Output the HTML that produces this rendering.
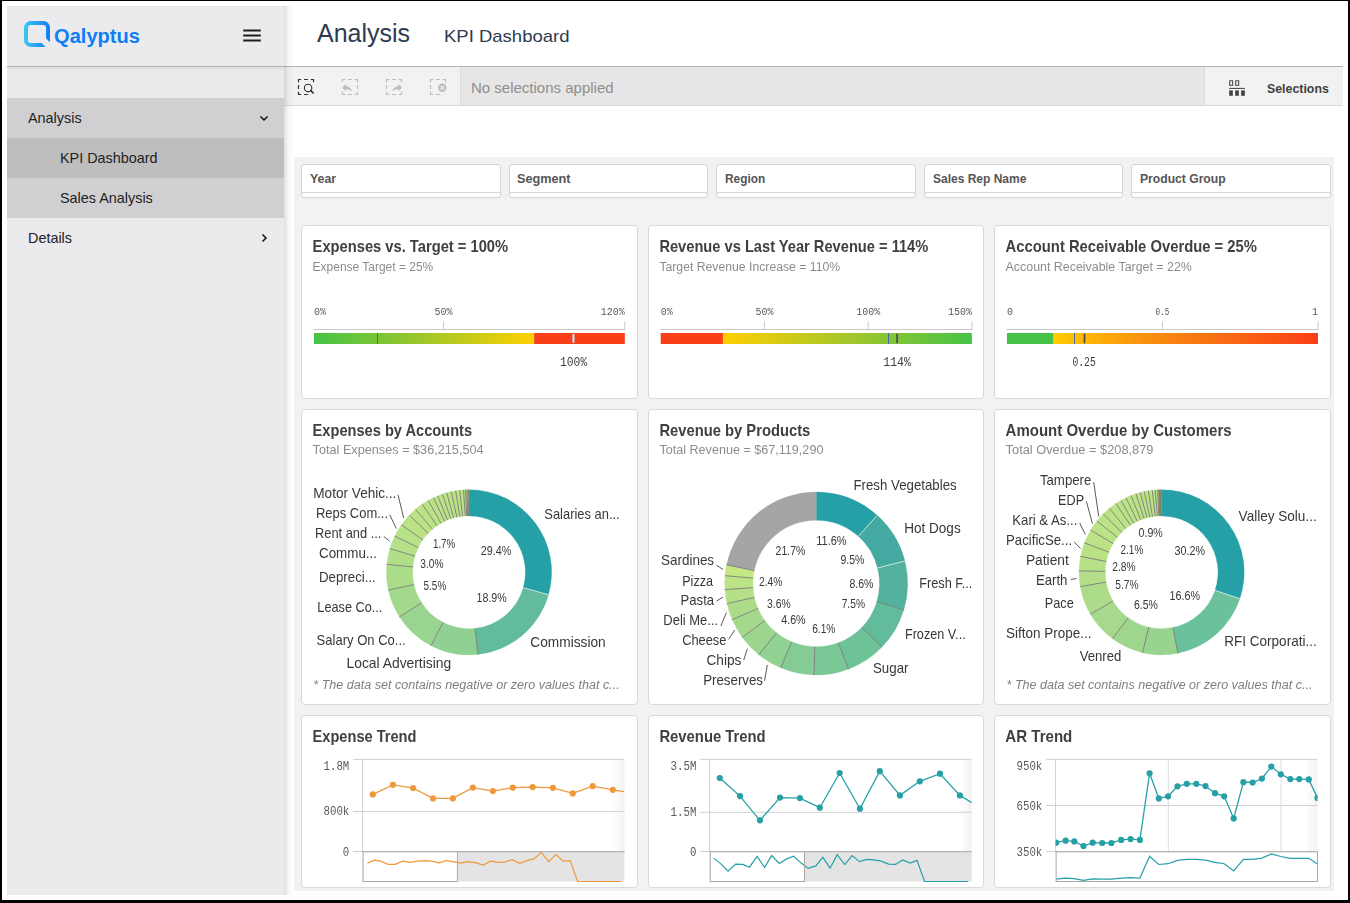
<!DOCTYPE html>
<html><head><meta charset="utf-8"><title>KPI Dashboard</title>
<style>
html,body{margin:0;padding:0}
body{width:1350px;height:903px;background:#000;position:relative;overflow:hidden;font-family:"Liberation Sans", sans-serif}
</style></head>
<body>
<div style="position:absolute;left:2px;top:1px;width:1346px;height:899px;background:#fff"></div>
<div style="position:absolute;left:7px;top:6px;width:277px;height:889px;background:#ebebed"></div>
<div style="position:absolute;left:7px;top:66px;width:277px;height:1px;background:#b6b6b8;box-shadow:0 1px 3px rgba(0,0,0,0.2)"></div>
<div style="position:absolute;left:7px;top:98px;width:277px;height:40px;background:#d0d0d2"></div>
<div style="position:absolute;left:7px;top:138px;width:277px;height:40px;background:#bebebe"></div>
<div style="position:absolute;left:7px;top:178px;width:277px;height:40px;background:#d0d0d2"></div>
<div style="position:absolute;left:284px;top:66px;width:1059px;height:1px;background:#b4b4b4;box-shadow:0 1px 2px rgba(0,0,0,0.14)"></div>
<div style="position:absolute;left:284px;top:67px;width:176px;height:38px;background:#f2f2f2"></div>
<div style="position:absolute;left:460px;top:67px;width:1px;height:38px;background:#dcdcdc"></div>
<div style="position:absolute;left:461px;top:67px;width:743px;height:38px;background:#e6e6e6"></div>
<div style="position:absolute;left:1204px;top:67px;width:1px;height:38px;background:#dcdcdc"></div>
<div style="position:absolute;left:1205px;top:67px;width:138px;height:38px;background:#f2f2f2"></div>
<div style="position:absolute;left:284px;top:105px;width:1059px;height:1px;background:#d9d9d9"></div>
<div style="position:absolute;left:284px;top:6px;width:10px;height:889px;background:linear-gradient(to right,rgba(0,0,0,0.13),rgba(0,0,0,0.04) 40%,rgba(0,0,0,0))"></div>
<div style="position:absolute;left:294px;top:157px;width:1040px;height:734px;background:#f2f2f2"></div>
<div style="position:absolute;left:301px;top:164px;width:198px;height:32px;background:#fff;border:1px solid #d5d5d5;border-radius:3px"></div>
<div style="position:absolute;left:302px;top:192px;width:198px;height:1px;background:#d5d5d5"></div>
<div style="position:absolute;left:509px;top:164px;width:197px;height:32px;background:#fff;border:1px solid #d5d5d5;border-radius:3px"></div>
<div style="position:absolute;left:510px;top:192px;width:197px;height:1px;background:#d5d5d5"></div>
<div style="position:absolute;left:716px;top:164px;width:198px;height:32px;background:#fff;border:1px solid #d5d5d5;border-radius:3px"></div>
<div style="position:absolute;left:717px;top:192px;width:198px;height:1px;background:#d5d5d5"></div>
<div style="position:absolute;left:924px;top:164px;width:197px;height:32px;background:#fff;border:1px solid #d5d5d5;border-radius:3px"></div>
<div style="position:absolute;left:925px;top:192px;width:197px;height:1px;background:#d5d5d5"></div>
<div style="position:absolute;left:1131px;top:164px;width:198px;height:32px;background:#fff;border:1px solid #d5d5d5;border-radius:3px"></div>
<div style="position:absolute;left:1132px;top:192px;width:198px;height:1px;background:#d5d5d5"></div>
<div style="position:absolute;left:301px;top:225px;width:335px;height:172px;background:#fff;border:1px solid #d9d9d9;border-radius:4px"></div>
<div style="position:absolute;left:648px;top:225px;width:334px;height:172px;background:#fff;border:1px solid #d9d9d9;border-radius:4px"></div>
<div style="position:absolute;left:994px;top:225px;width:335px;height:172px;background:#fff;border:1px solid #d9d9d9;border-radius:4px"></div>
<div style="position:absolute;left:301px;top:409px;width:335px;height:294px;background:#fff;border:1px solid #d9d9d9;border-radius:4px"></div>
<div style="position:absolute;left:648px;top:409px;width:334px;height:294px;background:#fff;border:1px solid #d9d9d9;border-radius:4px"></div>
<div style="position:absolute;left:994px;top:409px;width:335px;height:294px;background:#fff;border:1px solid #d9d9d9;border-radius:4px"></div>
<div style="position:absolute;left:301px;top:715px;width:335px;height:171px;background:#fff;border:1px solid #d9d9d9;border-radius:4px"></div>
<div style="position:absolute;left:648px;top:715px;width:334px;height:171px;background:#fff;border:1px solid #d9d9d9;border-radius:4px"></div>
<div style="position:absolute;left:994px;top:715px;width:335px;height:171px;background:#fff;border:1px solid #d9d9d9;border-radius:4px"></div>
<div style="position:absolute;left:54.3px;top:35.90px;margin:0;line-height:0;white-space:nowrap;font-size:19.5px;color:#0e7ef5;font-weight:bold;transform-origin:0 0;transform:scaleX(1.0307)">Qalyptus</div>
<div style="position:absolute;left:28px;top:117.90px;margin:0;line-height:0;white-space:nowrap;font-size:14.4px;color:#222;font-weight:normal">Analysis</div>
<div style="position:absolute;left:60px;top:157.90px;margin:0;line-height:0;white-space:nowrap;font-size:14.4px;color:#222;font-weight:normal">KPI Dashboard</div>
<div style="position:absolute;left:60px;top:197.90px;margin:0;line-height:0;white-space:nowrap;font-size:14.4px;color:#222;font-weight:normal">Sales Analysis</div>
<div style="position:absolute;left:28px;top:237.90px;margin:0;line-height:0;white-space:nowrap;font-size:14.4px;color:#222;font-weight:normal">Details</div>
<h1 style="position:absolute;left:317px;top:33.00px;margin:0;line-height:0;white-space:nowrap;font-size:25px;color:#2e3a50;font-weight:normal">Analysis</h1>
<h2 style="position:absolute;left:444px;top:36.50px;margin:0;line-height:0;white-space:nowrap;font-size:17px;color:#2e3a50;font-weight:normal;transform-origin:0 0;transform:scaleX(1.0885)">KPI Dashboard</h2>
<div style="position:absolute;left:471px;top:87.50px;margin:0;line-height:0;white-space:nowrap;font-size:15px;color:#8e8e8e;font-weight:normal">No selections applied</div>
<div style="position:absolute;left:1267px;top:89.00px;margin:0;line-height:0;white-space:nowrap;font-size:12.3px;color:#404040;font-weight:bold;transform-origin:0 0;transform:scaleX(1.0046)">Selections</div>
<div style="position:absolute;left:309.6px;top:178.90px;margin:0;line-height:0;white-space:nowrap;font-size:12px;color:#555;font-weight:bold;transform-origin:0 0;transform:scaleX(1.0331)">Year</div>
<div style="position:absolute;left:517.2px;top:178.90px;margin:0;line-height:0;white-space:nowrap;font-size:12px;color:#555;font-weight:bold;transform-origin:0 0;transform:scaleX(1.0575)">Segment</div>
<div style="position:absolute;left:725.4px;top:178.90px;margin:0;line-height:0;white-space:nowrap;font-size:12px;color:#555;font-weight:bold;transform-origin:0 0;transform:scaleX(0.9884)">Region</div>
<div style="position:absolute;left:932.7px;top:178.90px;margin:0;line-height:0;white-space:nowrap;font-size:12px;color:#555;font-weight:bold;transform-origin:0 0;transform:scaleX(1.0001)">Sales Rep Name</div>
<div style="position:absolute;left:1140px;top:178.90px;margin:0;line-height:0;white-space:nowrap;font-size:12px;color:#555;font-weight:bold;transform-origin:0 0;transform:scaleX(1.0110)">Product Group</div>
<svg style="position:absolute;left:0;top:0;will-change:transform" font-family='"Liberation Sans", sans-serif' width="1350" height="903" viewBox="0 0 1350 903">
<defs>
<linearGradient id="lg" x1="0" y1="0" x2="1" y2="0"><stop offset="0" stop-color="#3cc3ee"/><stop offset="1" stop-color="#1482f5"/></linearGradient>
<linearGradient id="g1" x1="0" y1="0" x2="1" y2="0"><stop offset="0" stop-color="#46c346"/><stop offset="0.45" stop-color="#95c62c"/><stop offset="1" stop-color="#fdd000"/></linearGradient>
<linearGradient id="g2" x1="0" y1="0" x2="1" y2="0"><stop offset="0" stop-color="#ffcf02"/><stop offset="0.5" stop-color="#a4c72a"/><stop offset="1" stop-color="#46c346"/></linearGradient>
<linearGradient id="g3" x1="0" y1="0" x2="1" y2="0"><stop offset="0" stop-color="#ffcc02"/><stop offset="0.35" stop-color="#f9900f"/><stop offset="1" stop-color="#f93f17"/></linearGradient>
<linearGradient id="shade" x1="0" y1="0" x2="1" y2="0"><stop offset="0" stop-color="#fff"/><stop offset="1" stop-color="#f2f2f2"/></linearGradient>
</defs>
<mask id="qm" maskUnits="userSpaceOnUse" x="0" y="0" width="80" height="80"><rect x="0" y="0" width="80" height="80" fill="#fff"/><path d="M 42.7 35 L 57.7 50 L 48.7 50 L 33.7 35 Z" fill="#000"/></mask>
<rect x="26" y="23" width="22" height="21.9" rx="4.6" fill="none" stroke="url(#lg)" stroke-width="4" mask="url(#qm)"/>
<line x1="243.2" y1="30.5" x2="260.8" y2="30.5" stroke="#1e1e1e" stroke-width="2"/>
<line x1="243.2" y1="35.5" x2="260.8" y2="35.5" stroke="#1e1e1e" stroke-width="2"/>
<line x1="243.2" y1="40.5" x2="260.8" y2="40.5" stroke="#1e1e1e" stroke-width="2"/>
<path d="M 260.5 116.5 L 264 120 L 267.5 116.5" fill="none" stroke="#111" stroke-width="1.5"/>
<path d="M 262.5 234.5 L 266 238 L 262.5 241.5" fill="none" stroke="#111" stroke-width="1.5"/>
<path d="M 298.5 82.2 L 298.5 79.5 L 301.2 79.5 M 310.8 79.5 L 313.5 79.5 L 313.5 82.2 M 301.2 94.5 L 298.5 94.5 L 298.5 91.8 M 304.0 79.5 L 308.0 79.5 M 304.0 94.5 L 308.0 94.5 M 298.5 85.0 L 298.5 89.0" fill="none" stroke="#333" stroke-width="1.2"/>
<circle cx="308.1" cy="87.9" r="3.7" fill="none" stroke="#333" stroke-width="1.1"/>
<line x1="310.8" y1="90.6" x2="313.2" y2="93" stroke="#333" stroke-width="1.7" stroke-linecap="round"/>
<path d="M 342.5 82.2 L 342.5 79.5 L 345.2 79.5 M 354.8 79.5 L 357.5 79.5 L 357.5 82.2 M 357.5 91.8 L 357.5 94.5 L 354.8 94.5 M 345.2 94.5 L 342.5 94.5 L 342.5 91.8 M 348.0 79.5 L 352.0 79.5 M 348.0 94.5 L 352.0 94.5 M 357.5 85.0 L 357.5 89.0" fill="none" stroke="#bdbdbd" stroke-width="1.2"/>
<path d="M 342.2 87.5 L 345.8 84 L 345.8 86.2 Q 350.5 86.2 352 91.2 Q 349.5 88.8 345.8 89.2 L 345.8 91.2 Z" fill="#bdbdbd"/>
<path d="M 386.5 82.2 L 386.5 79.5 L 389.2 79.5 M 398.8 79.5 L 401.5 79.5 L 401.5 82.2 M 401.5 91.8 L 401.5 94.5 L 398.8 94.5 M 389.2 94.5 L 386.5 94.5 L 386.5 91.8 M 392.0 79.5 L 396.0 79.5 M 392.0 94.5 L 396.0 94.5 M 386.5 85.0 L 386.5 89.0" fill="none" stroke="#bdbdbd" stroke-width="1.2"/>
<path d="M 402 87.5 L 398.4 84 L 398.4 86.2 Q 393.7 86.2 392.2 91.2 Q 394.7 88.8 398.4 89.2 L 398.4 91.2 Z" fill="#bdbdbd"/>
<path d="M 430.5 82.2 L 430.5 79.5 L 433.2 79.5 M 442.8 79.5 L 445.5 79.5 L 445.5 82.2 M 433.2 94.5 L 430.5 94.5 L 430.5 91.8 M 436.0 79.5 L 440.0 79.5 M 436.0 94.5 L 440.0 94.5 M 430.5 85.0 L 430.5 89.0" fill="none" stroke="#bdbdbd" stroke-width="1.2"/>
<circle cx="442.2" cy="87.8" r="4.2" fill="#bdbdbd"/>
<path d="M 440.4 86 L 444 89.6 M 444 86 L 440.4 89.6" stroke="#f2f2f2" stroke-width="1.2"/>
<rect x="1229.7" y="80.8" width="3" height="4.5" fill="none" stroke="#404040" stroke-width="1"/>
<rect x="1235.7" y="80.8" width="3" height="4.5" fill="none" stroke="#404040" stroke-width="1"/>
<rect x="1229.2" y="87.9" width="15.7" height="1" fill="#404040"/>
<rect x="1229.2" y="90.4" width="3.6" height="5.4" fill="#404040"/>
<rect x="1235.2" y="90.4" width="3.6" height="5.4" fill="#404040"/>
<rect x="1241.2" y="90.4" width="3.6" height="5.4" fill="#404040"/>
<text x="312.60" y="251.90" font-size="16.3px" fill="#404040" font-weight="bold" textLength="195.50" lengthAdjust="spacingAndGlyphs">Expenses vs. Target = 100%</text>
<text x="312.60" y="271.00" font-size="12px" fill="#8c8c8c" textLength="120.60" lengthAdjust="spacingAndGlyphs">Expense Target = 25%</text>
<line x1="313.5" y1="329.5" x2="625.3" y2="329.5" stroke="#c8c8c8" stroke-width="1"/>
<text x="314.00" y="314.60" font-size="10px" fill="#595959" style='font-family:"Liberation Mono", monospace'>0%</text>
<line x1="443.5" y1="321.5" x2="443.5" y2="329.5" stroke="#c8c8c8" stroke-width="1"/>
<text x="443.50" y="314.60" font-size="10px" fill="#595959" style='font-family:"Liberation Mono", monospace' text-anchor="middle">50%</text>
<line x1="624.8" y1="321.5" x2="624.8" y2="329.5" stroke="#c8c8c8" stroke-width="1"/>
<text x="624.80" y="314.60" font-size="10px" fill="#595959" style='font-family:"Liberation Mono", monospace' text-anchor="end">120%</text>
<rect x="314.0" y="333" width="220.14999999999998" height="11" fill="url(#g1)"/>
<rect x="534.15" y="333" width="90.64999999999998" height="11" fill="#f93f17"/>
<rect x="377.0" y="333" width="1" height="11" fill="#3f6aa5"/>
<rect x="572.30" y="333.8" width="2.3" height="9.3" rx="1" fill="#e3e6ea" stroke="rgba(120,60,50,0.35)" stroke-width="0.4"/>
<text x="573.60" y="366.00" font-size="12px" fill="#404040" style='font-family:"Liberation Mono", monospace' text-anchor="middle" textLength="27.20" lengthAdjust="spacingAndGlyphs">100%</text>
<text x="659.40" y="251.90" font-size="16.3px" fill="#404040" font-weight="bold" textLength="268.90" lengthAdjust="spacingAndGlyphs">Revenue vs Last Year Revenue = 114%</text>
<text x="659.40" y="271.00" font-size="12px" fill="#8c8c8c" textLength="180.80" lengthAdjust="spacingAndGlyphs">Target Revenue Increase = 110%</text>
<line x1="660.2" y1="329.5" x2="972.4" y2="329.5" stroke="#c8c8c8" stroke-width="1"/>
<text x="660.70" y="314.60" font-size="10px" fill="#595959" style='font-family:"Liberation Mono", monospace'>0%</text>
<line x1="764.4333333333334" y1="321.5" x2="764.4333333333334" y2="329.5" stroke="#c8c8c8" stroke-width="1"/>
<text x="764.43" y="314.60" font-size="10px" fill="#595959" style='font-family:"Liberation Mono", monospace' text-anchor="middle">50%</text>
<line x1="868.1666666666666" y1="321.5" x2="868.1666666666666" y2="329.5" stroke="#c8c8c8" stroke-width="1"/>
<text x="868.17" y="314.60" font-size="10px" fill="#595959" style='font-family:"Liberation Mono", monospace' text-anchor="middle">100%</text>
<line x1="971.9" y1="321.5" x2="971.9" y2="329.5" stroke="#c8c8c8" stroke-width="1"/>
<text x="971.90" y="314.60" font-size="10px" fill="#595959" style='font-family:"Liberation Mono", monospace' text-anchor="end">150%</text>
<rect x="660.7" y="333" width="62.23999999999999" height="11" fill="#f93f17"/>
<rect x="722.94" y="333" width="248.95999999999995" height="11" fill="url(#g2)"/>
<rect x="888.0" y="333" width="1" height="11" fill="#3f6aa5"/>
<rect x="896.20" y="333.6" width="1.8" height="9.8" rx="0.8" fill="#4f4d5e"/>
<text x="897.10" y="366.00" font-size="12px" fill="#404040" style='font-family:"Liberation Mono", monospace' text-anchor="middle" textLength="27.70" lengthAdjust="spacingAndGlyphs">114%</text>
<text x="1005.60" y="251.90" font-size="16.3px" fill="#404040" font-weight="bold" textLength="251.40" lengthAdjust="spacingAndGlyphs">Account Receivable Overdue = 25%</text>
<text x="1005.60" y="271.00" font-size="12px" fill="#8c8c8c" textLength="186.30" lengthAdjust="spacingAndGlyphs">Account Receivable Target = 22%</text>
<line x1="1006.4" y1="329.5" x2="1318.5" y2="329.5" stroke="#c8c8c8" stroke-width="1"/>
<text x="1006.90" y="314.60" font-size="10px" fill="#595959" style='font-family:"Liberation Mono", monospace'>0</text>
<line x1="1162.45" y1="321.5" x2="1162.45" y2="329.5" stroke="#c8c8c8" stroke-width="1"/>
<text x="1162.45" y="314.60" font-size="10px" fill="#595959" style='font-family:"Liberation Mono", monospace' text-anchor="middle" textLength="13.70" lengthAdjust="spacingAndGlyphs">0.5</text>
<line x1="1318.0" y1="321.5" x2="1318.0" y2="329.5" stroke="#c8c8c8" stroke-width="1"/>
<text x="1318.00" y="314.60" font-size="10px" fill="#595959" style='font-family:"Liberation Mono", monospace' text-anchor="end">1</text>
<rect x="1006.9" y="333" width="46.665" height="11" fill="#46c346"/>
<rect x="1053.565" y="333" width="264.435" height="11" fill="url(#g3)"/>
<rect x="1074.0" y="333" width="1" height="11" fill="#3f6aa5"/>
<rect x="1083.60" y="333.6" width="1.8" height="9.8" rx="0.8" fill="#4f4d5e"/>
<text x="1084.10" y="366.00" font-size="12px" fill="#404040" style='font-family:"Liberation Mono", monospace' text-anchor="middle" textLength="23.40" lengthAdjust="spacingAndGlyphs">0.25</text>
<text x="312.60" y="435.80" font-size="16.3px" fill="#404040" font-weight="bold" textLength="159.50" lengthAdjust="spacingAndGlyphs">Expenses by Accounts</text>
<text x="312.60" y="454.00" font-size="12px" fill="#8c8c8c" textLength="171.00" lengthAdjust="spacingAndGlyphs">Total Expenses = $36,215,504</text>
<path d="M 469.00 489.70 A 82.6 82.6 0 0 1 548.48 594.79 L 523.27 587.66 A 56.4 56.4 0 0 0 469.00 515.90 Z" fill="#26a0a7" stroke="#26a0a7" stroke-width="0.3"/>
<path d="M 548.48 594.79 A 82.6 82.6 0 0 1 477.78 654.43 L 474.99 628.38 A 56.4 56.4 0 0 0 523.27 587.66 Z" fill="#62bb9d" stroke="#62bb9d" stroke-width="0.3"/>
<path d="M 477.78 654.43 A 82.6 82.6 0 0 1 430.99 645.63 L 443.04 622.37 A 56.4 56.4 0 0 0 474.99 628.38 Z" fill="#90d092" stroke="#90d092" stroke-width="0.3"/>
<path d="M 430.99 645.63 A 82.6 82.6 0 0 1 399.49 616.92 L 421.54 602.77 A 56.4 56.4 0 0 0 443.04 622.37 Z" fill="#99d490" stroke="#99d490" stroke-width="0.3"/>
<path d="M 399.49 616.92 A 82.6 82.6 0 0 1 388.36 590.18 L 413.94 584.51 A 56.4 56.4 0 0 0 421.54 602.77 Z" fill="#a3d98c" stroke="#a3d98c" stroke-width="0.3"/>
<path d="M 388.36 590.18 A 82.6 82.6 0 0 1 386.78 564.38 L 412.86 566.89 A 56.4 56.4 0 0 0 413.94 584.51 Z" fill="#abdc8a" stroke="#abdc8a" stroke-width="0.3"/>
<path d="M 386.78 564.38 A 82.6 82.6 0 0 1 389.88 548.56 L 414.98 556.09 A 56.4 56.4 0 0 0 412.86 566.89 Z" fill="#b1df89" stroke="#b1df89" stroke-width="0.3"/>
<path d="M 389.88 548.56 A 82.6 82.6 0 0 1 394.76 536.09 L 418.31 547.58 A 56.4 56.4 0 0 0 414.98 556.09 Z" fill="#b5e188" stroke="#b5e188" stroke-width="0.3"/>
<path d="M 394.76 536.09 A 82.6 82.6 0 0 1 401.42 524.80 L 422.86 539.87 A 56.4 56.4 0 0 0 418.31 547.58 Z" fill="#b8e287" stroke="#b8e287" stroke-width="0.3"/>
<path d="M 401.42 524.80 A 82.6 82.6 0 0 1 409.28 515.23 L 428.22 533.33 A 56.4 56.4 0 0 0 422.86 539.87 Z" fill="#bbe386" stroke="#bbe386" stroke-width="0.3"/>
<path d="M 409.28 515.23 A 82.6 82.6 0 0 1 415.58 509.30 L 432.52 529.29 A 56.4 56.4 0 0 0 428.22 533.33 Z" fill="#bbe386" stroke="#bbe386" stroke-width="0.3"/>
<path d="M 415.58 509.30 A 82.6 82.6 0 0 1 422.21 504.23 L 437.05 525.82 A 56.4 56.4 0 0 0 432.52 529.29 Z" fill="#bbe386" stroke="#bbe386" stroke-width="0.3"/>
<path d="M 422.21 504.23 A 82.6 82.6 0 0 1 428.20 500.48 L 441.14 523.26 A 56.4 56.4 0 0 0 437.05 525.82 Z" fill="#bbe386" stroke="#bbe386" stroke-width="0.3"/>
<path d="M 428.20 500.48 A 82.6 82.6 0 0 1 433.44 497.75 L 444.72 521.39 A 56.4 56.4 0 0 0 441.14 523.26 Z" fill="#bbe386" stroke="#bbe386" stroke-width="0.3"/>
<path d="M 433.44 497.75 A 82.6 82.6 0 0 1 437.66 495.88 L 447.60 520.12 A 56.4 56.4 0 0 0 444.72 521.39 Z" fill="#bbe386" stroke="#bbe386" stroke-width="0.3"/>
<path d="M 437.66 495.88 A 82.6 82.6 0 0 1 442.38 494.11 L 450.82 518.91 A 56.4 56.4 0 0 0 447.60 520.12 Z" fill="#bbe386" stroke="#bbe386" stroke-width="0.3"/>
<path d="M 442.38 494.11 A 82.6 82.6 0 0 1 446.65 492.78 L 453.74 518.00 A 56.4 56.4 0 0 0 450.82 518.91 Z" fill="#bbe386" stroke="#bbe386" stroke-width="0.3"/>
<path d="M 446.65 492.78 A 82.6 82.6 0 0 1 451.26 491.63 L 456.89 517.22 A 56.4 56.4 0 0 0 453.74 518.00 Z" fill="#bbe386" stroke="#bbe386" stroke-width="0.3"/>
<path d="M 451.26 491.63 A 82.6 82.6 0 0 1 455.65 490.79 L 459.89 516.64 A 56.4 56.4 0 0 0 456.89 517.22 Z" fill="#bbe386" stroke="#bbe386" stroke-width="0.3"/>
<path d="M 455.65 490.79 A 82.6 82.6 0 0 1 459.65 490.23 L 462.62 516.26 A 56.4 56.4 0 0 0 459.89 516.64 Z" fill="#bbe386" stroke="#bbe386" stroke-width="0.3"/>
<path d="M 459.65 490.23 A 82.6 82.6 0 0 1 463.53 489.88 L 465.26 516.02 A 56.4 56.4 0 0 0 462.62 516.26 Z" fill="#bbe386" stroke="#bbe386" stroke-width="0.3"/>
<path d="M 463.53 489.88 A 82.6 82.6 0 0 1 465.54 489.77 L 466.64 515.95 A 56.4 56.4 0 0 0 465.26 516.02 Z" fill="#bbe386" stroke="#bbe386" stroke-width="0.3"/>
<path d="M 465.54 489.77 A 82.6 82.6 0 0 1 466.98 489.72 L 467.62 515.92 A 56.4 56.4 0 0 0 466.64 515.95 Z" fill="#b9d97e" stroke="#b9d97e" stroke-width="0.3"/>
<path d="M 466.98 489.72 A 82.6 82.6 0 0 1 468.14 489.70 L 468.41 515.90 A 56.4 56.4 0 0 0 467.62 515.92 Z" fill="#b3cf78" stroke="#b3cf78" stroke-width="0.3"/>
<path d="M 468.14 489.70 A 82.6 82.6 0 0 1 469.00 489.70 L 469.00 515.90 A 56.4 56.4 0 0 0 468.41 515.90 Z" fill="#a8b86a" stroke="#a8b86a" stroke-width="0.3"/>
<line x1="548.48" y1="594.79" x2="523.27" y2="587.66" stroke="#d4e4e2" stroke-width="0.9"/>
<line x1="477.78" y1="654.43" x2="474.99" y2="628.38" stroke="#7c7c7c" stroke-width="0.9"/>
<line x1="430.99" y1="645.63" x2="443.04" y2="622.37" stroke="#7c7c7c" stroke-width="0.9"/>
<line x1="399.49" y1="616.92" x2="421.54" y2="602.77" stroke="#7c7c7c" stroke-width="0.9"/>
<line x1="388.36" y1="590.18" x2="413.94" y2="584.51" stroke="#7c7c7c" stroke-width="0.9"/>
<line x1="386.78" y1="564.38" x2="412.86" y2="566.89" stroke="#7c7c7c" stroke-width="0.9"/>
<line x1="389.88" y1="548.56" x2="414.98" y2="556.09" stroke="#7c7c7c" stroke-width="0.9"/>
<line x1="394.76" y1="536.09" x2="418.31" y2="547.58" stroke="#7c7c7c" stroke-width="0.9"/>
<line x1="401.42" y1="524.80" x2="422.86" y2="539.87" stroke="#7c7c7c" stroke-width="0.9"/>
<line x1="409.28" y1="515.23" x2="428.22" y2="533.33" stroke="#7c7c7c" stroke-width="0.9"/>
<line x1="415.58" y1="509.30" x2="432.52" y2="529.29" stroke="#7c7c7c" stroke-width="0.9"/>
<line x1="422.21" y1="504.23" x2="437.05" y2="525.82" stroke="#7c7c7c" stroke-width="0.9"/>
<line x1="428.20" y1="500.48" x2="441.14" y2="523.26" stroke="#7c7c7c" stroke-width="0.9"/>
<line x1="433.44" y1="497.75" x2="444.72" y2="521.39" stroke="#7c7c7c" stroke-width="0.9"/>
<line x1="437.66" y1="495.88" x2="447.60" y2="520.12" stroke="#7c7c7c" stroke-width="0.9"/>
<line x1="442.38" y1="494.11" x2="450.82" y2="518.91" stroke="#7c7c7c" stroke-width="0.9"/>
<line x1="446.65" y1="492.78" x2="453.74" y2="518.00" stroke="#7c7c7c" stroke-width="0.9"/>
<line x1="451.26" y1="491.63" x2="456.89" y2="517.22" stroke="#7c7c7c" stroke-width="0.9"/>
<line x1="455.65" y1="490.79" x2="459.89" y2="516.64" stroke="#7c7c7c" stroke-width="0.9"/>
<line x1="459.65" y1="490.23" x2="462.62" y2="516.26" stroke="#7c7c7c" stroke-width="0.9"/>
<line x1="463.53" y1="489.88" x2="465.26" y2="516.02" stroke="#7c7c7c" stroke-width="0.9"/>
<line x1="465.54" y1="489.77" x2="466.64" y2="515.95" stroke="#7c7c7c" stroke-width="0.9"/>
<line x1="466.98" y1="489.72" x2="467.62" y2="515.92" stroke="#7c7c7c" stroke-width="0.9"/>
<line x1="468.14" y1="489.70" x2="468.41" y2="515.90" stroke="#7c7c7c" stroke-width="0.9"/>
<text x="480.80" y="555.00" font-size="12.2px" fill="#383838" textLength="30.50" lengthAdjust="spacingAndGlyphs">29.4%</text>
<text x="476.60" y="601.80" font-size="12.2px" fill="#383838" textLength="30.10" lengthAdjust="spacingAndGlyphs">18.9%</text>
<text x="433.00" y="548.00" font-size="12.2px" fill="#383838" textLength="22.20" lengthAdjust="spacingAndGlyphs">1.7%</text>
<text x="420.30" y="567.80" font-size="12.2px" fill="#383838" textLength="23.30" lengthAdjust="spacingAndGlyphs">3.0%</text>
<text x="423.60" y="589.80" font-size="12.2px" fill="#383838" textLength="22.60" lengthAdjust="spacingAndGlyphs">5.5%</text>
<text x="544.30" y="518.70" font-size="13.9px" fill="#383838" textLength="75.40" lengthAdjust="spacingAndGlyphs">Salaries an...</text>
<text x="530.30" y="646.60" font-size="13.9px" fill="#383838" textLength="75.40" lengthAdjust="spacingAndGlyphs">Commission</text>
<text x="346.50" y="667.50" font-size="13.9px" fill="#383838" textLength="104.70" lengthAdjust="spacingAndGlyphs">Local Advertising</text>
<text x="316.60" y="645.00" font-size="13.9px" fill="#383838" textLength="89.10" lengthAdjust="spacingAndGlyphs">Salary On Co...</text>
<text x="317.30" y="611.70" font-size="13.9px" fill="#383838" textLength="65.10" lengthAdjust="spacingAndGlyphs">Lease Co...</text>
<text x="319.00" y="581.80" font-size="13.9px" fill="#383838" textLength="56.80" lengthAdjust="spacingAndGlyphs">Depreci...</text>
<text x="319.00" y="558.00" font-size="13.9px" fill="#383838" textLength="58.00" lengthAdjust="spacingAndGlyphs">Commu...</text>
<text x="315.00" y="538.00" font-size="13.9px" fill="#383838" textLength="66.40" lengthAdjust="spacingAndGlyphs">Rent and ...</text>
<text x="316.00" y="518.00" font-size="13.9px" fill="#383838" textLength="72.00" lengthAdjust="spacingAndGlyphs">Reps Com...</text>
<text x="313.30" y="498.00" font-size="13.9px" fill="#383838" textLength="83.10" lengthAdjust="spacingAndGlyphs">Motor Vehic...</text>
<path d="M 398.0 494.7 L 403.7 518.0" fill="none" stroke="#595959" stroke-width="1"/>
<path d="M 389.7 514.7 L 396.4 528.6" fill="none" stroke="#595959" stroke-width="1"/>
<path d="M 383.7 536.3 L 389.7 541.3" fill="none" stroke="#595959" stroke-width="1"/>
<text x="313.30" y="688.50" font-size="12.5px" fill="#7f7f7f" font-style="italic" textLength="306.40" lengthAdjust="spacingAndGlyphs">* The data set contains negative or zero values that c...</text>
<text x="659.40" y="435.80" font-size="16.3px" fill="#404040" font-weight="bold" textLength="150.90" lengthAdjust="spacingAndGlyphs">Revenue by Products</text>
<text x="659.40" y="454.00" font-size="12px" fill="#8c8c8c" textLength="164.00" lengthAdjust="spacingAndGlyphs">Total Revenue = $67,119,290</text>
<path d="M 816.20 492.00 A 91.5 91.5 0 0 1 877.19 515.29 L 858.39 536.31 A 63.3 63.3 0 0 0 816.20 520.20 Z" fill="#26a0a7" stroke="#26a0a7" stroke-width="0.3"/>
<path d="M 877.19 515.29 A 91.5 91.5 0 0 1 904.90 561.05 L 877.57 567.97 A 63.3 63.3 0 0 0 858.39 536.31 Z" fill="#43a9a1" stroke="#43a9a1" stroke-width="0.3"/>
<path d="M 904.90 561.05 A 91.5 91.5 0 0 1 903.84 609.79 L 876.83 601.69 A 63.3 63.3 0 0 0 877.57 567.97 Z" fill="#52b29d" stroke="#52b29d" stroke-width="0.3"/>
<path d="M 903.84 609.79 A 91.5 91.5 0 0 1 882.02 647.06 L 861.73 627.47 A 63.3 63.3 0 0 0 876.83 601.69 Z" fill="#62bb9a" stroke="#62bb9a" stroke-width="0.3"/>
<path d="M 882.02 647.06 A 91.5 91.5 0 0 1 848.39 669.15 L 838.47 642.75 A 63.3 63.3 0 0 0 861.73 627.47 Z" fill="#6ec297" stroke="#6ec297" stroke-width="0.3"/>
<path d="M 848.39 669.15 A 91.5 91.5 0 0 1 814.12 674.98 L 814.76 646.78 A 63.3 63.3 0 0 0 838.47 642.75 Z" fill="#7ac795" stroke="#7ac795" stroke-width="0.3"/>
<path d="M 814.12 674.98 A 91.5 91.5 0 0 1 780.74 667.85 L 791.67 641.85 A 63.3 63.3 0 0 0 814.76 646.78 Z" fill="#84cb94" stroke="#84cb94" stroke-width="0.3"/>
<path d="M 780.74 667.85 A 91.5 91.5 0 0 1 758.74 654.71 L 776.45 632.76 A 63.3 63.3 0 0 0 791.67 641.85 Z" fill="#91d191" stroke="#91d191" stroke-width="0.3"/>
<path d="M 758.74 654.71 A 91.5 91.5 0 0 1 742.17 637.28 L 764.99 620.71 A 63.3 63.3 0 0 0 776.45 632.76 Z" fill="#9bd58e" stroke="#9bd58e" stroke-width="0.3"/>
<path d="M 742.17 637.28 A 91.5 91.5 0 0 1 732.10 619.55 L 758.02 608.44 A 63.3 63.3 0 0 0 764.99 620.71 Z" fill="#a4d98c" stroke="#a4d98c" stroke-width="0.3"/>
<path d="M 732.10 619.55 A 91.5 91.5 0 0 1 726.94 603.62 L 754.45 597.42 A 63.3 63.3 0 0 0 758.02 608.44 Z" fill="#acdc8a" stroke="#acdc8a" stroke-width="0.3"/>
<path d="M 726.94 603.62 A 91.5 91.5 0 0 1 724.90 589.56 L 753.04 587.70 A 63.3 63.3 0 0 0 754.45 597.42 Z" fill="#b4e088" stroke="#b4e088" stroke-width="0.3"/>
<path d="M 724.90 589.56 A 91.5 91.5 0 0 1 725.03 575.68 L 753.13 578.09 A 63.3 63.3 0 0 0 753.04 587.70 Z" fill="#bce385" stroke="#bce385" stroke-width="0.3"/>
<path d="M 725.03 575.68 A 91.5 91.5 0 0 1 726.63 564.79 L 754.24 570.56 A 63.3 63.3 0 0 0 753.13 578.09 Z" fill="#c4e783" stroke="#c4e783" stroke-width="0.3"/>
<path d="M 726.63 564.79 A 91.5 91.5 0 0 1 816.20 492.00 L 816.20 520.20 A 63.3 63.3 0 0 0 754.24 570.56 Z" fill="#a5a5a5" stroke="#a5a5a5" stroke-width="0.3"/>
<line x1="877.19" y1="515.29" x2="858.39" y2="536.31" stroke="#d4e4e2" stroke-width="0.9"/>
<line x1="904.90" y1="561.05" x2="877.57" y2="567.97" stroke="#d4e4e2" stroke-width="0.9"/>
<line x1="903.84" y1="609.79" x2="876.83" y2="601.69" stroke="#7c7c7c" stroke-width="0.9"/>
<line x1="882.02" y1="647.06" x2="861.73" y2="627.47" stroke="#7c7c7c" stroke-width="0.9"/>
<line x1="848.39" y1="669.15" x2="838.47" y2="642.75" stroke="#7c7c7c" stroke-width="0.9"/>
<line x1="814.12" y1="674.98" x2="814.76" y2="646.78" stroke="#7c7c7c" stroke-width="0.9"/>
<line x1="780.74" y1="667.85" x2="791.67" y2="641.85" stroke="#7c7c7c" stroke-width="0.9"/>
<line x1="758.74" y1="654.71" x2="776.45" y2="632.76" stroke="#7c7c7c" stroke-width="0.9"/>
<line x1="742.17" y1="637.28" x2="764.99" y2="620.71" stroke="#7c7c7c" stroke-width="0.9"/>
<line x1="732.10" y1="619.55" x2="758.02" y2="608.44" stroke="#7c7c7c" stroke-width="0.9"/>
<line x1="726.94" y1="603.62" x2="754.45" y2="597.42" stroke="#7c7c7c" stroke-width="0.9"/>
<line x1="724.90" y1="589.56" x2="753.04" y2="587.70" stroke="#7c7c7c" stroke-width="0.9"/>
<line x1="725.03" y1="575.68" x2="753.13" y2="578.09" stroke="#7c7c7c" stroke-width="0.9"/>
<line x1="726.63" y1="564.79" x2="754.24" y2="570.56" stroke="#7c7c7c" stroke-width="0.9"/>
<text x="775.60" y="554.50" font-size="12.2px" fill="#383838" textLength="29.90" lengthAdjust="spacingAndGlyphs">21.7%</text>
<text x="816.20" y="545.20" font-size="12.2px" fill="#383838" textLength="30.50" lengthAdjust="spacingAndGlyphs">11.6%</text>
<text x="840.40" y="563.50" font-size="12.2px" fill="#383838" textLength="23.90" lengthAdjust="spacingAndGlyphs">9.5%</text>
<text x="849.40" y="587.80" font-size="12.2px" fill="#383838" textLength="23.90" lengthAdjust="spacingAndGlyphs">8.6%</text>
<text x="841.70" y="607.70" font-size="12.2px" fill="#383838" textLength="23.30" lengthAdjust="spacingAndGlyphs">7.5%</text>
<text x="812.20" y="632.60" font-size="12.2px" fill="#383838" textLength="23.20" lengthAdjust="spacingAndGlyphs">6.1%</text>
<text x="781.30" y="623.70" font-size="12.2px" fill="#383838" textLength="24.20" lengthAdjust="spacingAndGlyphs">4.6%</text>
<text x="767.00" y="607.70" font-size="12.2px" fill="#383838" textLength="23.60" lengthAdjust="spacingAndGlyphs">3.6%</text>
<text x="759.00" y="585.50" font-size="12.2px" fill="#383838" textLength="23.30" lengthAdjust="spacingAndGlyphs">2.4%</text>
<text x="853.40" y="489.70" font-size="13.9px" fill="#383838" textLength="103.30" lengthAdjust="spacingAndGlyphs">Fresh Vegetables</text>
<text x="904.20" y="533.00" font-size="13.9px" fill="#383838" textLength="56.50" lengthAdjust="spacingAndGlyphs">Hot Dogs</text>
<text x="919.20" y="588.40" font-size="13.9px" fill="#383838" textLength="53.20" lengthAdjust="spacingAndGlyphs">Fresh F...</text>
<text x="904.90" y="638.60" font-size="13.9px" fill="#383838" textLength="60.80" lengthAdjust="spacingAndGlyphs">Frozen V...</text>
<text x="873.00" y="672.50" font-size="13.9px" fill="#383838" textLength="35.50" lengthAdjust="spacingAndGlyphs">Sugar</text>
<text x="714.10" y="565.20" font-size="13.9px" fill="#383838" text-anchor="end" textLength="53.10" lengthAdjust="spacingAndGlyphs">Sardines</text>
<text x="713.10" y="585.50" font-size="13.9px" fill="#383838" text-anchor="end" textLength="30.90" lengthAdjust="spacingAndGlyphs">Pizza</text>
<text x="714.10" y="605.40" font-size="13.9px" fill="#383838" text-anchor="end" textLength="33.50" lengthAdjust="spacingAndGlyphs">Pasta</text>
<text x="718.10" y="625.30" font-size="13.9px" fill="#383838" text-anchor="end" textLength="54.80" lengthAdjust="spacingAndGlyphs">Deli Me...</text>
<text x="726.40" y="645.30" font-size="13.9px" fill="#383838" text-anchor="end" textLength="44.20" lengthAdjust="spacingAndGlyphs">Cheese</text>
<text x="741.40" y="665.20" font-size="13.9px" fill="#383838" text-anchor="end" textLength="34.90" lengthAdjust="spacingAndGlyphs">Chips</text>
<text x="763.00" y="685.20" font-size="13.9px" fill="#383838" text-anchor="end" textLength="59.80" lengthAdjust="spacingAndGlyphs">Preserves</text>
<path d="M 716.5 565.2 L 723.1 569.5" fill="none" stroke="#595959" stroke-width="1"/>
<path d="M 716.5 601.0 L 723.1 597.1" fill="none" stroke="#595959" stroke-width="1"/>
<path d="M 720.8 626.0 L 726.4 612.7" fill="none" stroke="#595959" stroke-width="1"/>
<path d="M 728.7 639.3 L 734.7 630.0" fill="none" stroke="#595959" stroke-width="1"/>
<path d="M 743.7 660.2 L 747.4 648.6" fill="none" stroke="#595959" stroke-width="1"/>
<path d="M 764.6 680.8 L 767.3 664.9" fill="none" stroke="#595959" stroke-width="1"/>
<text x="1005.60" y="435.80" font-size="16.3px" fill="#404040" font-weight="bold" textLength="226.00" lengthAdjust="spacingAndGlyphs">Amount Overdue by Customers</text>
<text x="1005.60" y="454.00" font-size="12px" fill="#8c8c8c" textLength="147.90" lengthAdjust="spacingAndGlyphs">Total Overdue = $208,879</text>
<path d="M 1161.60 489.70 A 82.6 82.6 0 0 1 1239.84 598.78 L 1215.02 590.38 A 56.4 56.4 0 0 0 1161.60 515.90 Z" fill="#26a0a7" stroke="#26a0a7" stroke-width="0.3"/>
<path d="M 1239.84 598.78 A 82.6 82.6 0 0 1 1178.07 653.24 L 1172.84 627.57 A 56.4 56.4 0 0 0 1215.02 590.38 Z" fill="#6bc19c" stroke="#6bc19c" stroke-width="0.3"/>
<path d="M 1178.07 653.24 A 82.6 82.6 0 0 1 1142.60 652.68 L 1148.63 627.19 A 56.4 56.4 0 0 0 1172.84 627.57 Z" fill="#98d48f" stroke="#98d48f" stroke-width="0.3"/>
<path d="M 1142.60 652.68 A 82.6 82.6 0 0 1 1112.58 638.78 L 1128.13 617.70 A 56.4 56.4 0 0 0 1148.63 627.19 Z" fill="#9fd68e" stroke="#9fd68e" stroke-width="0.3"/>
<path d="M 1112.58 638.78 A 82.6 82.6 0 0 1 1090.43 614.22 L 1113.00 600.93 A 56.4 56.4 0 0 0 1128.13 617.70 Z" fill="#a6d98c" stroke="#a6d98c" stroke-width="0.3"/>
<path d="M 1090.43 614.22 A 82.6 82.6 0 0 1 1080.25 586.64 L 1106.06 582.09 A 56.4 56.4 0 0 0 1113.00 600.93 Z" fill="#acdc8a" stroke="#acdc8a" stroke-width="0.3"/>
<path d="M 1080.25 586.64 A 82.6 82.6 0 0 1 1079.01 570.86 L 1105.21 571.32 A 56.4 56.4 0 0 0 1106.06 582.09 Z" fill="#b2df88" stroke="#b2df88" stroke-width="0.3"/>
<path d="M 1079.01 570.86 A 82.6 82.6 0 0 1 1080.55 556.40 L 1106.26 561.44 A 56.4 56.4 0 0 0 1105.21 571.32 Z" fill="#b6e187" stroke="#b6e187" stroke-width="0.3"/>
<path d="M 1080.55 556.40 A 82.6 82.6 0 0 1 1084.43 542.83 L 1108.91 552.18 A 56.4 56.4 0 0 0 1106.26 561.44 Z" fill="#b9e286" stroke="#b9e286" stroke-width="0.3"/>
<path d="M 1084.43 542.83 A 82.6 82.6 0 0 1 1090.58 530.13 L 1113.10 543.51 A 56.4 56.4 0 0 0 1108.91 552.18 Z" fill="#bbe386" stroke="#bbe386" stroke-width="0.3"/>
<path d="M 1090.58 530.13 A 82.6 82.6 0 0 1 1096.87 520.99 L 1117.40 537.27 A 56.4 56.4 0 0 0 1113.10 543.51 Z" fill="#bbe386" stroke="#bbe386" stroke-width="0.3"/>
<path d="M 1096.87 520.99 A 82.6 82.6 0 0 1 1103.19 513.89 L 1121.72 532.42 A 56.4 56.4 0 0 0 1117.40 537.27 Z" fill="#bbe386" stroke="#bbe386" stroke-width="0.3"/>
<path d="M 1103.19 513.89 A 82.6 82.6 0 0 1 1109.39 508.29 L 1125.95 528.59 A 56.4 56.4 0 0 0 1121.72 532.42 Z" fill="#bbe386" stroke="#bbe386" stroke-width="0.3"/>
<path d="M 1109.39 508.29 A 82.6 82.6 0 0 1 1116.01 503.42 L 1130.47 525.27 A 56.4 56.4 0 0 0 1125.95 528.59 Z" fill="#bbe386" stroke="#bbe386" stroke-width="0.3"/>
<path d="M 1116.01 503.42 A 82.6 82.6 0 0 1 1120.93 500.41 L 1133.83 523.21 A 56.4 56.4 0 0 0 1130.47 525.27 Z" fill="#bbe386" stroke="#bbe386" stroke-width="0.3"/>
<path d="M 1120.93 500.41 A 82.6 82.6 0 0 1 1126.04 497.75 L 1137.32 521.39 A 56.4 56.4 0 0 0 1133.83 523.21 Z" fill="#bbe386" stroke="#bbe386" stroke-width="0.3"/>
<path d="M 1126.04 497.75 A 82.6 82.6 0 0 1 1131.06 495.55 L 1140.75 519.90 A 56.4 56.4 0 0 0 1137.32 521.39 Z" fill="#bbe386" stroke="#bbe386" stroke-width="0.3"/>
<path d="M 1131.06 495.55 A 82.6 82.6 0 0 1 1135.94 493.79 L 1144.08 518.69 A 56.4 56.4 0 0 0 1140.75 519.90 Z" fill="#bbe386" stroke="#bbe386" stroke-width="0.3"/>
<path d="M 1135.94 493.79 A 82.6 82.6 0 0 1 1140.22 492.51 L 1147.00 517.82 A 56.4 56.4 0 0 0 1144.08 518.69 Z" fill="#bbe386" stroke="#bbe386" stroke-width="0.3"/>
<path d="M 1140.22 492.51 A 82.6 82.6 0 0 1 1144.29 491.54 L 1149.78 517.15 A 56.4 56.4 0 0 0 1147.00 517.82 Z" fill="#bbe386" stroke="#bbe386" stroke-width="0.3"/>
<path d="M 1144.29 491.54 A 82.6 82.6 0 0 1 1148.25 490.79 L 1152.49 516.64 A 56.4 56.4 0 0 0 1149.78 517.15 Z" fill="#bbe386" stroke="#bbe386" stroke-width="0.3"/>
<path d="M 1148.25 490.79 A 82.6 82.6 0 0 1 1152.25 490.23 L 1155.22 516.26 A 56.4 56.4 0 0 0 1152.49 516.64 Z" fill="#bbe386" stroke="#bbe386" stroke-width="0.3"/>
<path d="M 1152.25 490.23 A 82.6 82.6 0 0 1 1155.26 489.94 L 1157.27 516.07 A 56.4 56.4 0 0 0 1155.22 516.26 Z" fill="#bbe386" stroke="#bbe386" stroke-width="0.3"/>
<path d="M 1155.26 489.94 A 82.6 82.6 0 0 1 1157.57 489.80 L 1158.84 515.97 A 56.4 56.4 0 0 0 1157.27 516.07 Z" fill="#bbe386" stroke="#bbe386" stroke-width="0.3"/>
<path d="M 1157.57 489.80 A 82.6 82.6 0 0 1 1158.86 489.75 L 1159.73 515.93 A 56.4 56.4 0 0 0 1158.84 515.97 Z" fill="#bbe386" stroke="#bbe386" stroke-width="0.3"/>
<path d="M 1158.86 489.75 A 82.6 82.6 0 0 1 1161.60 489.70 L 1161.60 515.90 A 56.4 56.4 0 0 0 1159.73 515.93 Z" fill="#84845a" stroke="#84845a" stroke-width="0.3"/>
<line x1="1239.84" y1="598.78" x2="1215.02" y2="590.38" stroke="#d4e4e2" stroke-width="0.9"/>
<line x1="1178.07" y1="653.24" x2="1172.84" y2="627.57" stroke="#7c7c7c" stroke-width="0.9"/>
<line x1="1142.60" y1="652.68" x2="1148.63" y2="627.19" stroke="#7c7c7c" stroke-width="0.9"/>
<line x1="1112.58" y1="638.78" x2="1128.13" y2="617.70" stroke="#7c7c7c" stroke-width="0.9"/>
<line x1="1090.43" y1="614.22" x2="1113.00" y2="600.93" stroke="#7c7c7c" stroke-width="0.9"/>
<line x1="1080.25" y1="586.64" x2="1106.06" y2="582.09" stroke="#7c7c7c" stroke-width="0.9"/>
<line x1="1079.01" y1="570.86" x2="1105.21" y2="571.32" stroke="#7c7c7c" stroke-width="0.9"/>
<line x1="1080.55" y1="556.40" x2="1106.26" y2="561.44" stroke="#7c7c7c" stroke-width="0.9"/>
<line x1="1084.43" y1="542.83" x2="1108.91" y2="552.18" stroke="#7c7c7c" stroke-width="0.9"/>
<line x1="1090.58" y1="530.13" x2="1113.10" y2="543.51" stroke="#7c7c7c" stroke-width="0.9"/>
<line x1="1096.87" y1="520.99" x2="1117.40" y2="537.27" stroke="#7c7c7c" stroke-width="0.9"/>
<line x1="1103.19" y1="513.89" x2="1121.72" y2="532.42" stroke="#7c7c7c" stroke-width="0.9"/>
<line x1="1109.39" y1="508.29" x2="1125.95" y2="528.59" stroke="#7c7c7c" stroke-width="0.9"/>
<line x1="1116.01" y1="503.42" x2="1130.47" y2="525.27" stroke="#7c7c7c" stroke-width="0.9"/>
<line x1="1120.93" y1="500.41" x2="1133.83" y2="523.21" stroke="#7c7c7c" stroke-width="0.9"/>
<line x1="1126.04" y1="497.75" x2="1137.32" y2="521.39" stroke="#7c7c7c" stroke-width="0.9"/>
<line x1="1131.06" y1="495.55" x2="1140.75" y2="519.90" stroke="#7c7c7c" stroke-width="0.9"/>
<line x1="1135.94" y1="493.79" x2="1144.08" y2="518.69" stroke="#7c7c7c" stroke-width="0.9"/>
<line x1="1140.22" y1="492.51" x2="1147.00" y2="517.82" stroke="#7c7c7c" stroke-width="0.9"/>
<line x1="1144.29" y1="491.54" x2="1149.78" y2="517.15" stroke="#7c7c7c" stroke-width="0.9"/>
<line x1="1148.25" y1="490.79" x2="1152.49" y2="516.64" stroke="#7c7c7c" stroke-width="0.9"/>
<line x1="1152.25" y1="490.23" x2="1155.22" y2="516.26" stroke="#7c7c7c" stroke-width="0.9"/>
<line x1="1155.26" y1="489.94" x2="1157.27" y2="516.07" stroke="#7c7c7c" stroke-width="0.9"/>
<line x1="1157.57" y1="489.80" x2="1158.84" y2="515.97" stroke="#7c7c7c" stroke-width="0.9"/>
<line x1="1158.86" y1="489.75" x2="1159.73" y2="515.93" stroke="#7c7c7c" stroke-width="0.9"/>
<text x="1138.60" y="537.30" font-size="12.2px" fill="#383838" textLength="24.20" lengthAdjust="spacingAndGlyphs">0.9%</text>
<text x="1120.60" y="553.60" font-size="12.2px" fill="#383838" textLength="22.60" lengthAdjust="spacingAndGlyphs">2.1%</text>
<text x="1112.30" y="570.50" font-size="12.2px" fill="#383838" textLength="23.30" lengthAdjust="spacingAndGlyphs">2.8%</text>
<text x="1115.30" y="588.80" font-size="12.2px" fill="#383838" textLength="23.30" lengthAdjust="spacingAndGlyphs">5.7%</text>
<text x="1133.90" y="609.40" font-size="12.2px" fill="#383838" textLength="23.90" lengthAdjust="spacingAndGlyphs">6.5%</text>
<text x="1174.50" y="555.20" font-size="12.2px" fill="#383838" textLength="30.50" lengthAdjust="spacingAndGlyphs">30.2%</text>
<text x="1169.50" y="600.10" font-size="12.2px" fill="#383838" textLength="30.50" lengthAdjust="spacingAndGlyphs">16.6%</text>
<text x="1039.90" y="484.80" font-size="13.9px" fill="#383838" textLength="51.50" lengthAdjust="spacingAndGlyphs">Tampere</text>
<text x="1058.10" y="504.70" font-size="13.9px" fill="#383838" textLength="26.00" lengthAdjust="spacingAndGlyphs">EDP</text>
<text x="1012.30" y="524.60" font-size="13.9px" fill="#383838" textLength="65.10" lengthAdjust="spacingAndGlyphs">Kari &amp; As...</text>
<text x="1006.00" y="544.60" font-size="13.9px" fill="#383838" textLength="66.10" lengthAdjust="spacingAndGlyphs">PacificSe...</text>
<text x="1025.90" y="564.50" font-size="13.9px" fill="#383838" textLength="42.90" lengthAdjust="spacingAndGlyphs">Patient</text>
<text x="1035.90" y="584.50" font-size="13.9px" fill="#383838" textLength="31.50" lengthAdjust="spacingAndGlyphs">Earth</text>
<text x="1044.80" y="607.70" font-size="13.9px" fill="#383838" textLength="29.00" lengthAdjust="spacingAndGlyphs">Pace</text>
<text x="1006.00" y="638.30" font-size="13.9px" fill="#383838" textLength="85.40" lengthAdjust="spacingAndGlyphs">Sifton Prope...</text>
<text x="1079.70" y="660.90" font-size="13.9px" fill="#383838" textLength="41.60" lengthAdjust="spacingAndGlyphs">Venred</text>
<text x="1238.60" y="521.30" font-size="13.9px" fill="#383838" textLength="78.10" lengthAdjust="spacingAndGlyphs">Valley  Solu...</text>
<text x="1224.30" y="646.00" font-size="13.9px" fill="#383838" textLength="92.40" lengthAdjust="spacingAndGlyphs">RFI Corporati...</text>
<path d="M 1093.7 482.1 L 1098.7 516.3" fill="none" stroke="#595959" stroke-width="1"/>
<path d="M 1086.4 501.4 L 1092.4 523.6" fill="none" stroke="#595959" stroke-width="1"/>
<path d="M 1079.7 523.0 L 1085.4 534.6" fill="none" stroke="#595959" stroke-width="1"/>
<path d="M 1074.1 541.9 L 1080.7 548.6" fill="none" stroke="#595959" stroke-width="1"/>
<path d="M 1070.8 579.5 L 1076.4 578.5" fill="none" stroke="#595959" stroke-width="1"/>
<text x="1006.60" y="688.50" font-size="12.5px" fill="#7f7f7f" font-style="italic" textLength="305.80" lengthAdjust="spacingAndGlyphs">* The data set contains negative or zero values that c...</text>
<text x="312.60" y="741.90" font-size="16.3px" fill="#404040" font-weight="bold" textLength="103.80" lengthAdjust="spacingAndGlyphs">Expense Trend</text>
<rect x="612.4" y="760" width="12" height="91.6" fill="url(#shade)"/>
<line x1="353.1" y1="759.4" x2="624.4" y2="759.4" stroke="#d0d0d0" stroke-width="1"/>
<text x="349.30" y="770.20" font-size="12.8px" fill="#595959" style='font-family:"Liberation Mono", monospace' text-anchor="end" textLength="25.80" lengthAdjust="spacingAndGlyphs">1.8M</text>
<line x1="353.1" y1="811.6" x2="624.4" y2="811.6" stroke="#d0d0d0" stroke-width="1"/>
<text x="349.30" y="814.80" font-size="12.8px" fill="#595959" style='font-family:"Liberation Mono", monospace' text-anchor="end" textLength="25.80" lengthAdjust="spacingAndGlyphs">800k</text>
<line x1="353.1" y1="851.6" x2="624.4" y2="851.6" stroke="#d0d0d0" stroke-width="1"/>
<text x="349.30" y="856.20" font-size="12.8px" fill="#595959" style='font-family:"Liberation Mono", monospace' text-anchor="end" textLength="6.45" lengthAdjust="spacingAndGlyphs">0</text>
<line x1="362.6" y1="759.4" x2="362.6" y2="851.6" stroke="#d0d0d0" stroke-width="1"/>
<clipPath id="c362"><rect x="362.6" y="755" width="261.79999999999995" height="96"/></clipPath>
<g clip-path="url(#c362)"><path d="M 372.8 794.4 L 392.9 784.8 L 413.1 788.1 L 433.0 798.4 L 452.9 798.4 L 472.8 787.6 L 492.9 791.1 L 512.8 787.6 L 532.7 787.1 L 552.9 787.8 L 572.8 793.4 L 592.7 786.1 L 612.8 789.8 L 633.0 793.1" fill="none" stroke="#ee9a3c" stroke-width="1.3"/>
<circle cx="372.8" cy="794.4" r="3.1" fill="#ee9a3c"/>
<circle cx="392.9" cy="784.8" r="3.1" fill="#ee9a3c"/>
<circle cx="413.1" cy="788.1" r="3.1" fill="#ee9a3c"/>
<circle cx="433.0" cy="798.4" r="3.1" fill="#ee9a3c"/>
<circle cx="452.9" cy="798.4" r="3.1" fill="#ee9a3c"/>
<circle cx="472.8" cy="787.6" r="3.1" fill="#ee9a3c"/>
<circle cx="492.9" cy="791.1" r="3.1" fill="#ee9a3c"/>
<circle cx="512.8" cy="787.6" r="3.1" fill="#ee9a3c"/>
<circle cx="532.7" cy="787.1" r="3.1" fill="#ee9a3c"/>
<circle cx="552.9" cy="787.8" r="3.1" fill="#ee9a3c"/>
<circle cx="572.8" cy="793.4" r="3.1" fill="#ee9a3c"/>
<circle cx="592.7" cy="786.1" r="3.1" fill="#ee9a3c"/>
<circle cx="612.8" cy="789.8" r="3.1" fill="#ee9a3c"/>
<circle cx="633.0" cy="793.1" r="3.1" fill="#ee9a3c"/>
</g>
<rect x="362.6" y="851.6" width="261.79999999999995" height="29.899999999999977" fill="#e4e4e4"/>
<rect x="363.1" y="851.6" width="94.79999999999995" height="29.899999999999977" fill="#fff"/>
<path d="M 367.5 863.1 L 374.3 860.1 L 380.6 861.1 L 388.2 864.4 L 395.2 864.4 L 402.8 861.1 L 410.1 862.4 L 417.1 861.1 L 424.7 860.6 L 431.5 861.1 L 439.0 862.9 L 446.1 860.6 L 453.7 861.9 L 460.5 863.1 L 468.0 861.6 L 475.6 862.6 L 483.1 865.1 L 490.7 861.1 L 498.2 862.4 L 504.5 862.1 L 512.1 859.6 L 519.6 863.4 L 526.7 860.6 L 533.8 858.9 L 541.3 852.3 L 548.6 861.6 L 555.7 854.6 L 563.2 861.1 L 570.3 860.6 L 577.6 881.5 L 621.2 881.5" fill="none" stroke="#ee9a3c" stroke-width="1.2"/>
<rect x="363.1" y="851.6" width="94.29999999999995" height="29.899999999999977" fill="none" stroke="#a8a8a8" stroke-width="1"/>
<line x1="362.6" y1="851.6" x2="624.4" y2="851.6" stroke="#b4b4b4" stroke-width="1.2"/>
<text x="659.40" y="741.90" font-size="16.3px" fill="#404040" font-weight="bold" textLength="106.30" lengthAdjust="spacingAndGlyphs">Revenue Trend</text>
<rect x="959.7" y="760" width="12" height="91.6" fill="url(#shade)"/>
<line x1="700.2" y1="759.4" x2="971.7" y2="759.4" stroke="#d0d0d0" stroke-width="1"/>
<text x="696.40" y="770.20" font-size="12.8px" fill="#595959" style='font-family:"Liberation Mono", monospace' text-anchor="end" textLength="25.80" lengthAdjust="spacingAndGlyphs">3.5M</text>
<line x1="700.2" y1="812.3" x2="971.7" y2="812.3" stroke="#d0d0d0" stroke-width="1"/>
<text x="696.40" y="816.30" font-size="12.8px" fill="#595959" style='font-family:"Liberation Mono", monospace' text-anchor="end" textLength="25.80" lengthAdjust="spacingAndGlyphs">1.5M</text>
<line x1="700.2" y1="851.6" x2="971.7" y2="851.6" stroke="#d0d0d0" stroke-width="1"/>
<text x="696.40" y="856.20" font-size="12.8px" fill="#595959" style='font-family:"Liberation Mono", monospace' text-anchor="end" textLength="6.45" lengthAdjust="spacingAndGlyphs">0</text>
<line x1="709.7" y1="759.4" x2="709.7" y2="851.6" stroke="#d0d0d0" stroke-width="1"/>
<clipPath id="c709"><rect x="709.7" y="755" width="262.0" height="96"/></clipPath>
<g clip-path="url(#c709)"><path d="M 719.8 778.0 L 740.0 796.1 L 759.9 820.3 L 780.0 797.6 L 799.9 798.1 L 819.8 807.7 L 839.7 773.0 L 859.9 808.7 L 879.8 771.2 L 899.9 795.4 L 919.8 781.3 L 940.0 773.7 L 959.9 795.4 L 980.0 807.7" fill="none" stroke="#26a0a7" stroke-width="1.3"/>
<circle cx="719.8" cy="778.0" r="3.1" fill="#26a0a7"/>
<circle cx="740.0" cy="796.1" r="3.1" fill="#26a0a7"/>
<circle cx="759.9" cy="820.3" r="3.1" fill="#26a0a7"/>
<circle cx="780.0" cy="797.6" r="3.1" fill="#26a0a7"/>
<circle cx="799.9" cy="798.1" r="3.1" fill="#26a0a7"/>
<circle cx="819.8" cy="807.7" r="3.1" fill="#26a0a7"/>
<circle cx="839.7" cy="773.0" r="3.1" fill="#26a0a7"/>
<circle cx="859.9" cy="808.7" r="3.1" fill="#26a0a7"/>
<circle cx="879.8" cy="771.2" r="3.1" fill="#26a0a7"/>
<circle cx="899.9" cy="795.4" r="3.1" fill="#26a0a7"/>
<circle cx="919.8" cy="781.3" r="3.1" fill="#26a0a7"/>
<circle cx="940.0" cy="773.7" r="3.1" fill="#26a0a7"/>
<circle cx="959.9" cy="795.4" r="3.1" fill="#26a0a7"/>
<circle cx="980.0" cy="807.7" r="3.1" fill="#26a0a7"/>
</g>
<rect x="709.7" y="851.6" width="262.0" height="29.899999999999977" fill="#e4e4e4"/>
<rect x="710.2" y="851.6" width="94.79999999999995" height="29.899999999999977" fill="#fff"/>
<path d="M 713.8 858.1 L 720.6 863.6 L 728.1 871.2 L 735.7 864.1 L 742.7 864.4 L 749.5 867.2 L 757.1 856.3 L 764.6 867.4 L 771.7 855.6 L 779.3 863.4 L 786.6 858.9 L 793.6 856.3 L 801.2 863.1 L 808.2 868.4 L 815.8 865.9 L 822.8 857.3 L 830.1 868.2 L 837.2 854.6 L 844.7 864.6 L 852.1 855.6 L 859.6 861.6 L 866.7 859.4 L 873.7 859.9 L 881.3 861.1 L 888.6 864.1 L 895.6 864.4 L 902.7 859.9 L 910.2 863.1 L 917.0 860.4 L 924.6 881.5 L 968.2 881.5" fill="none" stroke="#26a0a7" stroke-width="1.2"/>
<rect x="710.2" y="851.6" width="94.29999999999995" height="29.899999999999977" fill="none" stroke="#a8a8a8" stroke-width="1"/>
<line x1="709.7" y1="851.6" x2="971.7" y2="851.6" stroke="#b4b4b4" stroke-width="1.2"/>
<text x="1005.30" y="741.90" font-size="16.3px" fill="#404040" font-weight="bold" textLength="67.00" lengthAdjust="spacingAndGlyphs">AR Trend</text>
<rect x="1305.5" y="760" width="12" height="91.6" fill="url(#shade)"/>
<line x1="1046.1" y1="759.4" x2="1317.5" y2="759.4" stroke="#d0d0d0" stroke-width="1"/>
<text x="1042.30" y="770.20" font-size="12.8px" fill="#595959" style='font-family:"Liberation Mono", monospace' text-anchor="end" textLength="25.80" lengthAdjust="spacingAndGlyphs">950k</text>
<line x1="1046.1" y1="805.5" x2="1317.5" y2="805.5" stroke="#d0d0d0" stroke-width="1"/>
<text x="1042.30" y="810.00" font-size="12.8px" fill="#595959" style='font-family:"Liberation Mono", monospace' text-anchor="end" textLength="25.80" lengthAdjust="spacingAndGlyphs">650k</text>
<line x1="1046.1" y1="851.6" x2="1317.5" y2="851.6" stroke="#d0d0d0" stroke-width="1"/>
<text x="1042.30" y="856.20" font-size="12.8px" fill="#595959" style='font-family:"Liberation Mono", monospace' text-anchor="end" textLength="25.80" lengthAdjust="spacingAndGlyphs">350k</text>
<line x1="1168.3" y1="759.4" x2="1168.3" y2="851.6" stroke="#dcdcdc" stroke-width="1"/>
<line x1="1281.1" y1="759.4" x2="1281.1" y2="851.6" stroke="#dcdcdc" stroke-width="1"/>
<line x1="1055.6" y1="759.4" x2="1055.6" y2="851.6" stroke="#d0d0d0" stroke-width="1"/>
<clipPath id="c1055"><rect x="1055.6" y="755" width="261.9000000000001" height="96"/></clipPath>
<g clip-path="url(#c1055)"><path d="M 1056.1 842.7 L 1065.6 840.7 L 1074.3 841.4 L 1083.5 846.0 L 1092.7 842.7 L 1102.2 843.0 L 1111.4 843.0 L 1121.2 839.9 L 1130.6 839.1 L 1139.9 839.9 L 1149.6 773.3 L 1158.8 798.4 L 1168.1 796.3 L 1177.5 786.3 L 1186.8 783.8 L 1196.3 783.8 L 1205.5 786.1 L 1215.0 793.2 L 1224.2 796.3 L 1233.7 818.4 L 1243.4 782.2 L 1252.6 782.5 L 1261.9 778.6 L 1271.3 766.6 L 1280.8 774.3 L 1290.3 779.1 L 1299.3 779.1 L 1308.8 779.4 L 1317.5 797.9" fill="none" stroke="#26a0a7" stroke-width="1.3"/>
<circle cx="1056.1" cy="842.7" r="3.1" fill="#26a0a7"/>
<circle cx="1065.6" cy="840.7" r="3.1" fill="#26a0a7"/>
<circle cx="1074.3" cy="841.4" r="3.1" fill="#26a0a7"/>
<circle cx="1083.5" cy="846.0" r="3.1" fill="#26a0a7"/>
<circle cx="1092.7" cy="842.7" r="3.1" fill="#26a0a7"/>
<circle cx="1102.2" cy="843.0" r="3.1" fill="#26a0a7"/>
<circle cx="1111.4" cy="843.0" r="3.1" fill="#26a0a7"/>
<circle cx="1121.2" cy="839.9" r="3.1" fill="#26a0a7"/>
<circle cx="1130.6" cy="839.1" r="3.1" fill="#26a0a7"/>
<circle cx="1139.9" cy="839.9" r="3.1" fill="#26a0a7"/>
<circle cx="1149.6" cy="773.3" r="3.1" fill="#26a0a7"/>
<circle cx="1158.8" cy="798.4" r="3.1" fill="#26a0a7"/>
<circle cx="1168.1" cy="796.3" r="3.1" fill="#26a0a7"/>
<circle cx="1177.5" cy="786.3" r="3.1" fill="#26a0a7"/>
<circle cx="1186.8" cy="783.8" r="3.1" fill="#26a0a7"/>
<circle cx="1196.3" cy="783.8" r="3.1" fill="#26a0a7"/>
<circle cx="1205.5" cy="786.1" r="3.1" fill="#26a0a7"/>
<circle cx="1215.0" cy="793.2" r="3.1" fill="#26a0a7"/>
<circle cx="1224.2" cy="796.3" r="3.1" fill="#26a0a7"/>
<circle cx="1233.7" cy="818.4" r="3.1" fill="#26a0a7"/>
<circle cx="1243.4" cy="782.2" r="3.1" fill="#26a0a7"/>
<circle cx="1252.6" cy="782.5" r="3.1" fill="#26a0a7"/>
<circle cx="1261.9" cy="778.6" r="3.1" fill="#26a0a7"/>
<circle cx="1271.3" cy="766.6" r="3.1" fill="#26a0a7"/>
<circle cx="1280.8" cy="774.3" r="3.1" fill="#26a0a7"/>
<circle cx="1290.3" cy="779.1" r="3.1" fill="#26a0a7"/>
<circle cx="1299.3" cy="779.1" r="3.1" fill="#26a0a7"/>
<circle cx="1308.8" cy="779.4" r="3.1" fill="#26a0a7"/>
<circle cx="1317.5" cy="797.9" r="3.1" fill="#26a0a7"/>
</g>
<path d="M 1056.1 879.1 L 1065.6 878.1 L 1074.3 878.6 L 1083.5 880.4 L 1092.7 878.8 L 1102.2 879.1 L 1111.4 879.1 L 1121.2 878.1 L 1130.6 877.6 L 1139.9 878.1 L 1149.6 856.3 L 1158.8 864.5 L 1168.1 863.7 L 1177.5 860.4 L 1186.8 859.4 L 1196.3 859.4 L 1205.5 860.1 L 1215.0 862.4 L 1224.2 863.7 L 1233.7 870.9 L 1243.4 859.4 L 1252.6 859.4 L 1261.9 858.1 L 1271.3 854.0 L 1280.8 856.5 L 1290.3 858.3 L 1299.3 858.3 L 1308.8 858.3 L 1317.5 864.0" fill="none" stroke="#26a0a7" stroke-width="1.2"/>
<rect x="1056.1" y="851.6" width="261.4000000000001" height="29.899999999999977" fill="none" stroke="#a8a8a8" stroke-width="1"/>
<line x1="1055.6" y1="851.6" x2="1317.5" y2="851.6" stroke="#b4b4b4" stroke-width="1.2"/>
</svg>
</body></html>
